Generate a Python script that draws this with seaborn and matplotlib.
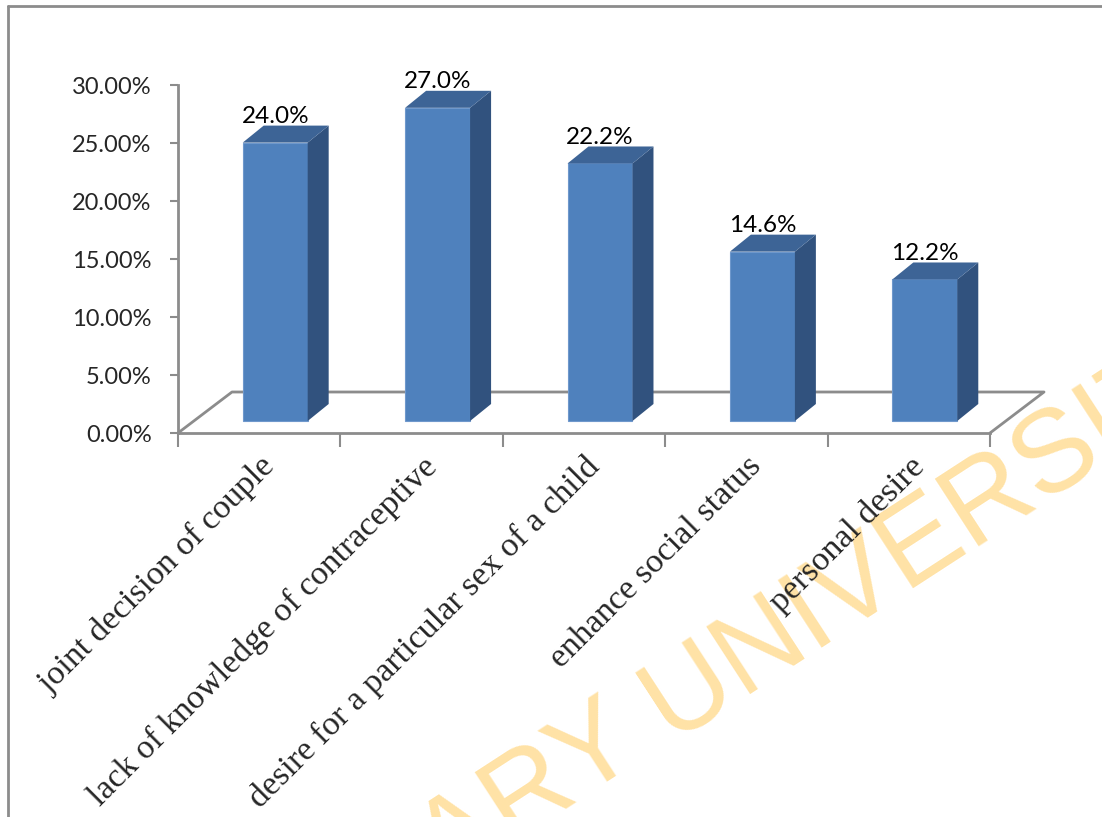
import matplotlib
matplotlib.use("Agg")
import matplotlib.pyplot as plt
import seaborn as sns
import pandas as pd
from matplotlib.patches import Polygon
from matplotlib.lines import Line2D
from matplotlib.ticker import FuncFormatter

# data (percent)
reasons = ["joint decision of couple", "lack of knowledge of contraceptive",
           "desire for a particular sex of a child", "enhance social status",
           "personal desire"]
shares = [24.0, 27.0, 22.2, 14.6, 12.2]
yticks = [0, 5, 10, 15, 20, 25, 30]

df = pd.DataFrame({"reason": reasons, "share": shares})

sns.set_style("white")
plt.rcParams["font.family"] = ["Lato", "DejaVu Sans"]

W, H = 1102, 817
fig = plt.figure(figsize=(W / 100, H / 100), dpi=100)
# axes box in pixels: x 178..990, y 85..433
ax = fig.add_axes([178 / W, (H - 433) / H, (990 - 178) / W, (433 - 85) / H])
ax.patch.set_alpha(0)

front = "#4F81BD"
side = "#31527E"
top = "#3D6496"
grey = "#8C8C8C"

sns.barplot(data=df, x="reason", y="share", color=front, width=0.4,
            saturation=1, ax=ax, zorder=3, edgecolor="#6F98CC", linewidth=0.8)
ax.set_xlim(-0.5, 4.5)
ax.set_ylim(0, 30)

# pseudo 3d: px per unit
px_x = (990 - 178) / 5
px_y = (433 - 85) / 30
bar_dx, bar_dy = 16 / px_x, 12 / px_y      # bars sit a bit back on the floor
dep_x, dep_y = 21 / px_x, 17 / px_y        # bar depth
floor_x, floor_y = 54 / px_x, 41 / px_y    # floor depth

# floor
fx = [-0.5, -0.5 + floor_x, 4.5 + floor_x, 4.5]
fy = [0, floor_y, floor_y, 0]
ax.plot(fx, fy, color=grey, lw=2, clip_on=False, zorder=1)

for p, v in zip(ax.patches, shares):
    p.set_x(p.get_x() + bar_dx)
    p.set_y(p.get_y() + bar_dy)
    x0, y0, w, h = p.get_x(), p.get_y(), p.get_width(), p.get_height()
    ax.add_patch(Polygon([(x0 + w, y0), (x0 + w + dep_x, y0 + dep_y),
                          (x0 + w + dep_x, y0 + h + dep_y), (x0 + w, y0 + h)],
                         closed=True, fc=side, ec="none", zorder=3, clip_on=False))
    ax.add_patch(Polygon([(x0, y0 + h), (x0 + dep_x, y0 + h + dep_y),
                          (x0 + w + dep_x, y0 + h + dep_y), (x0 + w, y0 + h)],
                         closed=True, fc=top, ec="none", zorder=3, clip_on=False))
    ax.text(x0 + w / 2, y0 + h + dep_y + 0.2, f"{v:.1f}%", ha="center",
            va="baseline", fontsize=17.5, color="black", zorder=5, clip_on=False)

# axes styling
sns.despine(ax=ax, top=True, right=True)
ax.spines["left"].set_color(grey)
ax.spines["bottom"].set_color(grey)
ax.spines["left"].set_linewidth(2)
ax.spines["bottom"].set_linewidth(2)
ax.set_yticks(yticks)
ax.yaxis.set_major_formatter(FuncFormatter(lambda v, _: f"{v:.2f}%"))
ax.tick_params(axis="y", left=True, length=6, width=1.5, color=grey,
               labelsize=17, pad=13)
ax.set_xticks(range(5))
ax.set_xticklabels(reasons, rotation=45, ha="right", rotation_mode="anchor",
                   fontsize=24.5, family=["Liberation Serif", "DejaVu Serif"])
ax.set_xticks([i - 0.5 for i in range(6)], minor=True)
ax.tick_params(axis="x", which="major", length=0, pad=13)
ax.tick_params(axis="x", which="minor", bottom=True, length=10, width=1.5, color=grey)
ax.set_xlabel("")
ax.set_ylabel("")
ax.grid(False)

# outer frame (left and top edges only are visible)
fy_top = (H - 6) / H
fig.add_artist(Line2D([8 / W, 8 / W], [0, fy_top], color=grey, lw=2))
fig.add_artist(Line2D([8 / W, 1], [fy_top, fy_top], color=grey, lw=2))

# watermark, drawn under the chart
wm = dict(rotation=33, rotation_mode="anchor", va="baseline", fontsize=84,
          color="#FFE2A6", family=["Liberation Sans", "DejaVu Sans"], zorder=-1)
fig.text(670 / W, (H - 740) / H, "LIBRARY ", ha="right", **wm)
fig.text(670 / W, (H - 740) / H, "UNIVERSITY", ha="left", **wm)

fig.savefig("out.png", dpi=100)
